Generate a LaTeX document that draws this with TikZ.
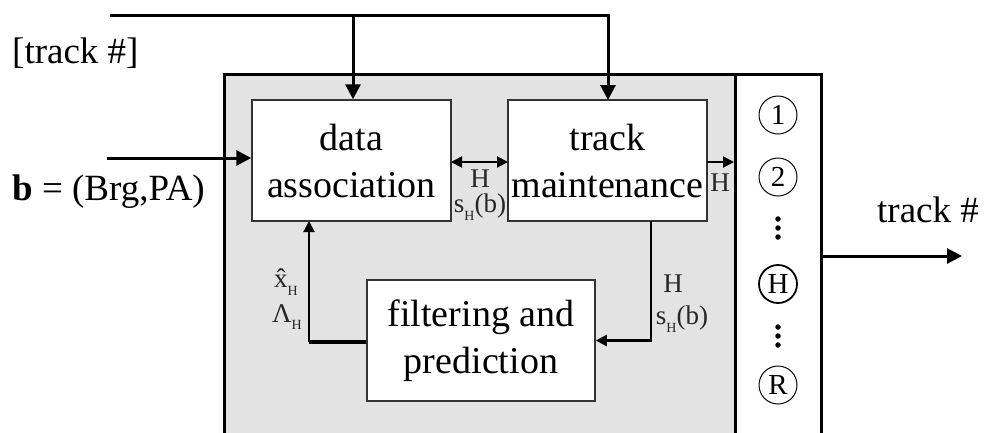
\documentclass[tikz,border=0pt]{standalone}
\usepackage{fontspec}
\setmainfont{Liberation Serif}
\usetikzlibrary{arrows.meta,calc}
\newcommand{\subH}{\raisebox{-0.28em}{\fontsize{14}{14}\selectfont H}}
\begin{document}
\begin{tikzpicture}[x=1pt,y=-1pt,
  blk/.style={draw=black!80,line width=1.5pt,fill=white,minimum width=199pt,minimum height=121pt,inner sep=0pt,align=center,font=\fontsize{38}{47}\selectfont},
  lbl/.style={font=\fontsize{27}{27}\selectfont,inner sep=0pt,text=black!85},
  big/.style={font=\fontsize{37}{44}\selectfont,inner sep=0pt},
  circ/.style={circle,draw,line width=1pt,minimum size=38pt,inner sep=0pt,font=\fontsize{29}{29}\selectfont},
  bigarrow/.style={line width=3pt,-{Triangle[length=15pt,width=15pt]}},
  arr/.style={line width=2.2pt,-{Triangle[length=11pt,width=11pt]}},
  dotc/.style={circle,fill=black,minimum size=5.5pt,inner sep=0pt}
]
\clip (0,0) rectangle (984,432);
% outer frames
\node[draw,line width=2.6pt,fill=black!11,minimum width=511pt,minimum height=420pt,inner sep=0pt,anchor=north west] (gray) at (223,73) {};
\node[draw,line width=2.6pt,fill=white,minimum width=86pt,minimum height=420pt,inner sep=0pt,anchor=north west] (panel) at (734,73) {};
% blocks
\node[blk] (da) at (351.5,160.5) {data\\association};
\node[blk] (tm) at (607.5,160.5) {track\\maintenance};
\node[blk,minimum width=228pt] (fp) at (481,340.5) {filtering and\\prediction};
% texts left
\node[big,anchor=west] (trk) at (12,53) {[track \#]};
\node[big,anchor=west] (bin) at (12,192) {\textbf{b} = (Brg,PA)};
\node[big] (tout) at (928,210) {track \#};
% top input
\coordinate (tl) at (110,15);
\coordinate (tj) at (353,15);
\draw[line width=3pt] (tl) -- (tj);
\draw[bigarrow] (tj) -- (tj |- da.north);
\draw[bigarrow] (tj) -- (608,15) -- (608,100);
% b input
\coordinate (bs) at (107,158);
\draw[bigarrow] (bs) -- (bs -| da.west);
% between da and tm
\draw[line width=2pt,{Triangle[length=11pt,width=11pt]}-{Triangle[length=11pt,width=11pt]}] (451,162) -- (508,162);
\node[lbl] (h1) at (480,179) {H};
\node[lbl] (s1) at (480,207) {s\subH(b)};
% tm to panel
\draw[arr] (707,162) -- (734,162);
\node[lbl] (h2) at (720,183) {H};
% tm to fp
\coordinate (tmb) at (651,221);
\draw[arr] (tmb) |- (fp.east);
\node[lbl] (h3) at (673,284) {H};
\node[lbl] (s3) at (682,319) {s\subH(b)};
% fp to da
\coordinate (ux) at (309,342);
\draw[line width=3.5pt] (fp.west |- ux) -- (ux);
\draw[arr] (ux) -- (309,221);
\node[lbl] (xh) at (286,282) {\^{x}\subH};
\node[lbl] (lh) at (287,317) {Λ\subH};
% panel contents
\node[circ] (c1) at (778,115) {1};
\node[circ] (c2) at (778,177) {2};
\node[dotc] (d1) at (778,219) {};
\node[dotc] (d2) at (778,228) {};
\node[dotc] (d3) at (778,237) {};
\node[circ,line width=1.8pt] (cH) at (778,284) {H};
\node[dotc] (d4) at (778,327) {};
\node[dotc] (d5) at (778,336) {};
\node[dotc] (d6) at (778,345) {};
\node[circ] (cR) at (778,385) {R};
% output
\coordinate (oe) at (962,256);
\draw[bigarrow] (820,256) -- (oe);
\end{tikzpicture}
\end{document}
